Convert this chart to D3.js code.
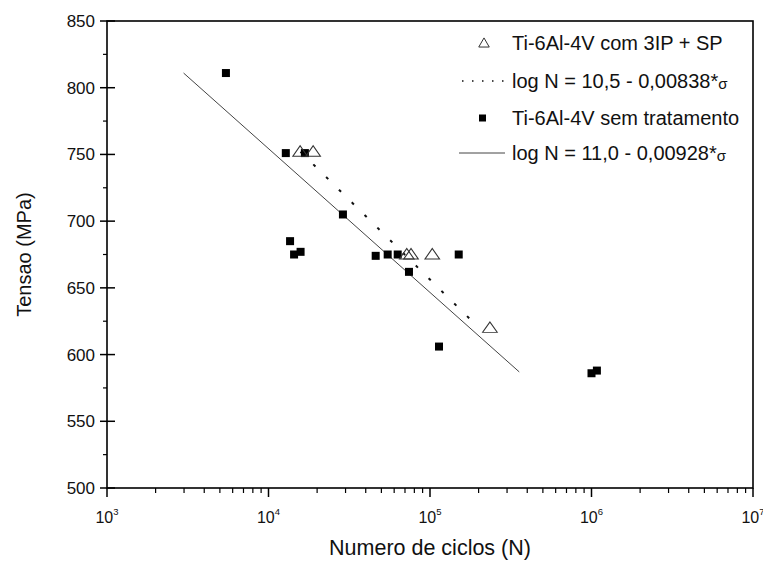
<!DOCTYPE html>
<html>
<head>
<meta charset="utf-8">
<script src="https://cdn.jsdelivr.net/npm/d3@7"></script>
<style>
  body { margin: 0; background: #fff; }
  text { font-family: "Liberation Sans", Arial, sans-serif; fill: #111; }
</style>
</head>
<body>
<div id="chart"></div>
<script>
// untreated samples (filled squares)
const untreatedN = [5450, 12800, 13600, 14400, 15800, 16800, 28900, 46100, 54700, 63100, 74100, 113700, 150600, 1000000, 1080000]
const untreatedS = [811, 751, 685, 675, 677, 751, 705, 674, 675, 675, 662, 606, 675, 586, 588]

// 3IP + SP samples (open triangles)
const treatedN = [15700, 18900, 71800, 76300, 103300, 235000]
const treatedS = [752, 752, 675, 675, 675, 620]

// fitted lines, end points (N, stress)
const fitUntreatedN = [2980, 357000]
const fitUntreatedS = [811, 587]
const fitTreatedN = [15780, 201000]
const fitTreatedS = [752, 620]

const yTicks = [500, 550, 600, 650, 700, 750, 800, 850]
const xDecades = [3, 4, 5, 6, 7]

const legendLabels = [
  "Ti-6Al-4V com 3IP + SP",
  "log N = 10,5 - 0,00838*",
  "Ti-6Al-4V sem tratamento",
  "log N = 11,0 - 0,00928*"
]

const width = 763, height = 563
const margin = {left: 107, right: 10, top: 21, bottom: 75}

const svg = d3.select("#chart").append("svg")
  .attr("width", width)
  .attr("height", height)

const x = d3.scaleLog()
  .domain([1e3, 1e7])
  .range([margin.left, width - margin.right])

const y = d3.scaleLinear()
  .domain([500, 850])
  .range([height - margin.bottom, margin.top])

const x0 = x.range()[0], x1 = x.range()[1]
const y0 = y.range()[0], y1 = y.range()[1]

// y axis ticks: major cross the axis, minor outside
const yMinor = d3.range(525, 850, 50)
svg.append("g").selectAll("line")
  .data(yTicks)
  .enter().append("line")
    .attr("x1", x0 - 7).attr("x2", x0 + 8)
    .attr("y1", d => y(d)).attr("y2", d => y(d))
    .attr("stroke", "#000").attr("stroke-width", 1.5)
svg.append("g").selectAll("line")
  .data(yMinor)
  .enter().append("line")
    .attr("x1", x0 - 4).attr("x2", x0)
    .attr("y1", d => y(d)).attr("y2", d => y(d))
    .attr("stroke", "#000").attr("stroke-width", 1.2)
svg.append("g").selectAll("text")
  .data(yTicks)
  .enter().append("text")
    .attr("x", x0 - 12)
    .attr("y", d => y(d))
    .attr("dy", "0.35em")
    .attr("text-anchor", "end")
    .style("font-size", "17px")
    .text(d => d)

// x axis ticks
const xMinor = []
xDecades.slice(0, -1).forEach(e => {
  for (let k = 2; k < 10; k++) xMinor.push(k * Math.pow(10, e))
})
svg.append("g").selectAll("line")
  .data(xDecades)
  .enter().append("line")
    .attr("x1", d => x(Math.pow(10, d))).attr("x2", d => x(Math.pow(10, d)))
    .attr("y1", y0).attr("y2", y0 + 9)
    .attr("stroke", "#000").attr("stroke-width", 1.5)
svg.append("g").selectAll("line")
  .data(xMinor)
  .enter().append("line")
    .attr("x1", d => x(d)).attr("x2", d => x(d))
    .attr("y1", y0).attr("y2", y0 + 5)
    .attr("stroke", "#000").attr("stroke-width", 1.2)
const xLab = svg.append("g").selectAll("text")
  .data(xDecades)
  .enter().append("text")
    .attr("x", d => x(Math.pow(10, d)))
    .attr("y", y0 + 35)
    .attr("text-anchor", "middle")
    .style("font-size", "16px")
xLab.append("tspan").text("10")
xLab.append("tspan")
  .attr("dy", -8)
  .style("font-size", "9.5px")
  .text(d => d)

// frame
svg.append("rect")
  .attr("x", x0).attr("y", y1)
  .attr("width", x1 - x0).attr("height", y0 - y1)
  .attr("fill", "none")
  .attr("stroke", "#000")
  .attr("stroke-width", 1.6)

// axis titles
svg.append("text")
  .attr("x", (x0 + x1) / 2)
  .attr("y", 555)
  .attr("text-anchor", "middle")
  .style("font-size", "21.5px")
  .text("Numero de ciclos (N)")
svg.append("text")
  .attr("transform", `translate(31,${(y0 + y1) / 2}) rotate(-90)`)
  .attr("text-anchor", "middle")
  .style("font-size", "20px")
  .text("Tensao (MPa)")

// fit lines
const line = d3.line()
  .x(d => x(d[0]))
  .y(d => y(d[1]))

svg.append("path")
  .datum(d3.zip(fitUntreatedN, fitUntreatedS))
  .attr("d", line)
  .attr("fill", "none")
  .attr("stroke", "#444")
  .attr("stroke-width", 1)

svg.append("path")
  .datum(d3.zip(fitTreatedN, fitTreatedS))
  .attr("d", line)
  .attr("fill", "none")
  .attr("stroke", "#111")
  .attr("stroke-width", 2)
  .attr("stroke-dasharray", "3,15")
  .attr("stroke-dashoffset", -18)

// markers
const sq = 8
svg.append("g").selectAll("rect")
  .data(d3.zip(untreatedN, untreatedS))
  .enter().append("rect")
    .attr("x", d => x(d[0]) - sq / 2)
    .attr("y", d => y(d[1]) - sq / 2)
    .attr("width", sq).attr("height", sq)
    .attr("fill", "#000")

const tri = d3.symbol().type(d3.symbolTriangle).size(70)
svg.append("g").selectAll("path")
  .data(d3.zip(treatedN, treatedS))
  .enter().append("path")
    .attr("d", tri)
    .attr("transform", d => `translate(${x(d[0])},${y(d[1]) + 1}) scale(1.15,0.95)`)
    .attr("fill", "none")
    .attr("stroke", "#333")
    .attr("stroke-width", 1)

// legend
const legendY = [43, 81, 118, 153]
const legend = svg.append("g")
legend.append("path")
  .attr("d", d3.symbol().type(d3.symbolTriangle).size(48))
  .attr("transform", `translate(484,${legendY[0] + 1})`)
  .attr("fill", "none").attr("stroke", "#333").attr("stroke-width", 1)
legend.append("line")
  .attr("x1", 462).attr("x2", 505)
  .attr("y1", legendY[1]).attr("y2", legendY[1])
  .attr("stroke", "#111").attr("stroke-width", 1.5)
  .attr("stroke-dasharray", "1.5,8.5")
legend.append("rect")
  .attr("x", 479).attr("y", legendY[2] - 3.5)
  .attr("width", 7).attr("height", 7)
  .attr("fill", "#000")
legend.append("line")
  .attr("x1", 459).attr("x2", 505)
  .attr("y1", legendY[3]).attr("y2", legendY[3])
  .attr("stroke", "#444").attr("stroke-width", 1)

const lt = legend.selectAll("text.lab")
  .data(legendLabels)
  .enter().append("text")
    .attr("class", "lab")
    .attr("x", 512)
    .attr("y", (d, i) => legendY[i])
    .attr("dy", "0.35em")
    .style("font-size", "20px")
    .text(d => d)
lt.filter((d, i) => i === 1 || i === 3)
  .append("tspan")
    .attr("dy", 1)
    .style("font-size", "15px")
    .text("σ")
</script>
</body>
</html>
